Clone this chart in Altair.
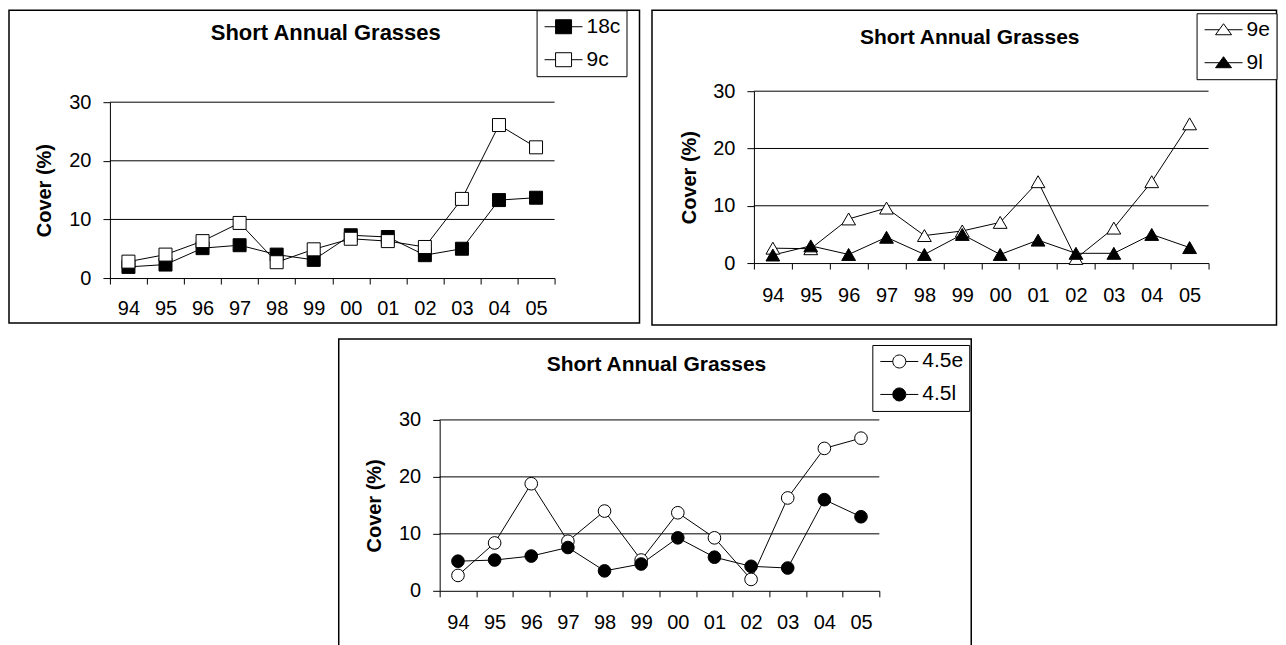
import json
import altair as alt
import pandas as pd

# ---------------- data ----------------
years = ['94', '95', '96', '97', '98', '99', '00', '01', '02', '03', '04', '05']

s18c = [1.9, 2.3, 5.1, 5.6, 4.0, 3.1, 7.3, 7.0, 3.9, 5.0, 13.3, 13.7]
s9c = [2.8, 4.0, 6.3, 9.4, 2.7, 4.9, 6.7, 6.3, 5.3, 13.5, 26.1, 22.3]

s9e = [2.6, 2.5, 7.7, 9.6, 4.8, 5.6, 7.1, 14.2, 0.8, 6.1, 14.2, 24.3]
s9l = [1.4, 3.0, 1.5, 4.5, 1.5, 5.0, 1.5, 4.0, 1.7, 1.7, 5.0, 2.7]

s45e = [2.7, 8.4, 18.8, 8.7, 14.0, 5.4, 13.7, 9.3, 2.0, 16.3, 25.0, 26.8]
s45l = [5.2, 5.4, 6.1, 7.6, 3.5, 4.7, 9.3, 5.9, 4.3, 4.0, 16.0, 13.0]

grid_values = [10, 20, 30]
y_ticks = [0, 10, 20, 30]
title_text = 'Short Annual Grasses'
y_title = 'Cover (%)'

FONT = 'Liberation Sans'
N = len(years)


def panel(key, names, series, fills, shape, size, legend_path, W, H, plot_x, plot_y,
          title_dx, title_offset, title_size, ytitle_x, legend_xy, label_pad):
    rows = []
    for name, vals in zip(names, series):
        for i, v in enumerate(vals):
            rows.append({'x': i + 0.5, 'v': v, key: name})
    df = pd.DataFrame(rows)
    grid = pd.DataFrame({'g': grid_values,
                         'x0': [0] * len(grid_values),
                         'x1': [N] * len(grid_values)})

    xs = alt.Scale(domain=[0, N], range=[plot_x[0], plot_x[1]], nice=False, zero=False)
    ys = alt.Scale(domain=[0, 30], range=[plot_y[1], plot_y[0]], nice=False, zero=False)

    label_expr = ("datum.value % 1 == 0.5 ? " + json.dumps(years).replace('"', "'")
                  + "[floor(datum.value)] : ''")
    xaxis = alt.Axis(
        values=[i / 2 for i in range(2 * N + 1)],
        labelExpr=label_expr,
        tickOpacity={"condition": {"test": "datum.value % 1 == 0.5", "value": 0}, "value": 1},
        offset=plot_y[1] - H,
        title=None, grid=False,
        domainColor='black', domainWidth=1, tickColor='black', tickWidth=1, tickSize=6,
        labelPadding=label_pad, labelFont=FONT, labelFontSize=20, labelColor='black',
        labelOverlap=False, labelFlush=False,
    )
    yaxis = alt.Axis(
        values=y_ticks, offset=-plot_x[0], grid=False,
        domainColor='black', domainWidth=1, tickColor='black', tickWidth=1, tickSize=7,
        labelPadding=12, labelFont=FONT, labelFontSize=20, labelColor='black',
        labelFlush=False, labelOverlap=False,
        title=y_title, titleFont=FONT, titleFontSize=20, titleFontWeight='bold',
        titleColor='black', titleX=ytitle_x - plot_x[0], titleY=(plot_y[0] + plot_y[1]) / 2,
        titleBaseline='middle', titleAngle=270,
    )

    rules = alt.Chart(grid).mark_rule(color='black', strokeWidth=1).encode(
        x=alt.X('x0:Q', scale=xs, axis=xaxis),
        x2='x1:Q',
        y=alt.Y('g:Q', scale=ys, axis=yaxis),
    )
    lines = alt.Chart(df).mark_line(color='black', strokeWidth=1).encode(
        x=alt.X('x:Q', scale=xs, axis=xaxis),
        y=alt.Y('v:Q', scale=ys, axis=yaxis),
        detail=f'{key}:N',
    )
    pts = alt.Chart(df).mark_point(shape=shape, size=size, stroke='black', strokeWidth=1,
                                   opacity=1, fillOpacity=1).encode(
        x=alt.X('x:Q', scale=xs, axis=xaxis),
        y=alt.Y('v:Q', scale=ys, axis=yaxis),
        fill=alt.Fill(f'{key}:N', scale=alt.Scale(domain=names, range=fills),
                      legend=alt.Legend(
                          title=None,
                          orient='none', legendX=legend_xy[0], legendY=legend_xy[1],
                          direction='vertical',
                          symbolType=legend_path, symbolSize=4,
                          symbolStrokeWidth=1, symbolStrokeColor='black',
                          symbolOffset=10.5, labelOffset=12.5,
                          labelFont=FONT, labelFontSize=21, labelColor='black',
                          padding=6, rowPadding=11,
                          strokeColor='black', fillColor='white')),
    )
    return alt.layer(rules, lines, pts).properties(
        width=W, height=H,
        title=alt.TitleParams(text=title_text, font=FONT, fontSize=title_size,
                              fontWeight='bold', color='black', anchor='middle',
                              frame='group', baseline='top', offset=title_offset,
                              dx=title_dx),
        view=alt.ViewBackground(stroke='black', strokeWidth=1.5, fill='white'),
    )


sq_path = 'M-19,0H-8M8,0H19M-8,-7H8V7H-8Z'
tri_path = 'M-19,0H-4.4M4.4,0H19M0,-6L8,5H-8Z'
circ_path = 'M-19,0H-6.5M6.5,0H19M-6.5,0A6.5,6.5 0 1,0 6.5,0A6.5,6.5 0 1,0 -6.5,0Z'

p1 = panel('sa', ['18c', '9c'], [s18c, s9c], ['black', 'white'], 'square', 169, sq_path,
           631, 313, (101, 546), (92, 268), 1.5, -35, 22, 36, (528, 0), 14)
p2 = panel('sb', ['9e', '9l'], [s9e, s9l], ['white', 'black'], 'triangle-up', 190, tri_path,
           625, 315, (102, 557), (81, 253), 5.5, -38, 21, 38, (545, 3), 16)
p3 = panel('sc', ['4.5e', '4.5l'], [s45e, s45l], ['white', 'black'], 'circle', 160, circ_path,
           633, 320, (101, 541), (81, 252), 1.5, -36, 21, 36, (534, 6), 16)

spacer = alt.Chart(pd.DataFrame({'z': [0]})).mark_point(opacity=0).encode(
    opacity=alt.value(0)
).properties(width=328, height=10,
             view=alt.ViewBackground(stroke='transparent', fill='transparent'))

top = alt.hconcat(p1, p2, spacing=10.5).resolve_scale(fill='independent')
bottom = alt.hconcat(spacer, p3, spacing=0).resolve_scale(fill='independent')

chart = alt.vconcat(top, bottom, spacing=12).resolve_scale(
    fill='independent'
).properties(padding=0, background='white')

chart.save("out.html", embed_options={"renderer": "svg", "actions": False})
